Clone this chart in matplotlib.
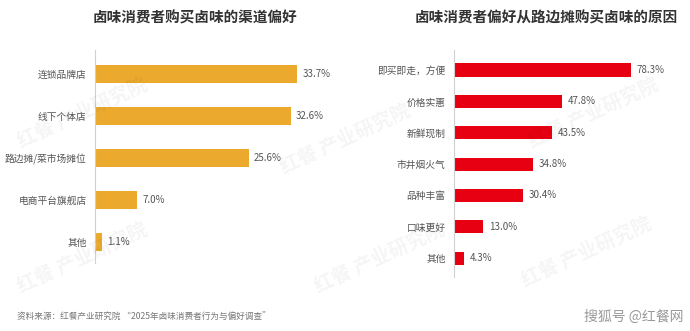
import matplotlib

matplotlib.use("Agg")
import matplotlib.pyplot as plt

plt.rcParams["font.family"] = ["Noto Sans CJK SC", "DejaVu Sans"]

# left chart: channels
channel_labels = ["连锁品牌店", "线下个体店", "路边摊/菜市场摊位", "电商平台旗舰店", "其他"]
channel_values = [33.7, 32.6, 25.6, 7.0, 1.1]

# right chart: reasons for buying at street stalls
reason_labels = ["即买即走，方便", "价格实惠", "新鲜现制", "市井烟火气", "品种丰富", "口味更好", "其他"]
reason_values = [78.3, 47.8, 43.5, 34.8, 30.4, 13.0, 4.3]

W, H = 690, 331
fig = plt.figure(figsize=(W / 100, H / 100), dpi=100)
fig.patch.set_facecolor("white")


def px_axes(x0, y_top, width, y_bottom):
    return fig.add_axes([x0 / W, 1 - y_bottom / H, width / W, (y_bottom - y_top) / H])


def draw(ax, labels, values, color, xmax, ylim, bar_h):
    pos = list(range(len(labels)))
    ax.barh(pos, values, height=bar_h, color=color, zorder=2)
    ax.set_xlim(0, xmax)
    ax.set_ylim(*ylim)
    ax.set_yticks(pos)
    ax.set_yticklabels(labels, fontsize=7, color="#555555")
    ax.tick_params(axis="y", length=0, pad=6)
    ax.set_xticks([])
    for side in ("top", "right", "bottom"):
        ax.spines[side].set_visible(False)
    ax.spines["left"].set_color("#d0d0d0")
    ax.spines["left"].set_linewidth(0.8)
    ax.set_facecolor("none")
    for p, v in zip(pos, values):
        ax.annotate(f"{v:.1f}%", (v, p), xytext=(4, 0), textcoords="offset points",
                    va="center", ha="left", fontsize=7, color="#555555")


# faint watermarks
for (wx, wy) in [(0.12, 0.66), (0.5, 0.58), (0.12, 0.22), (0.55, 0.22), (0.86, 0.66), (0.85, 0.24)]:
    fig.text(wx, wy, "红餐 产业研究院", fontsize=14, color="#000000", alpha=0.045,
             rotation=25, fontweight="bold", ha="center", va="center")

ax1 = px_axes(95, 50, 240, 263)
draw(ax1, channel_labels, channel_values, "#EBAA2E", 40, (4.5, -0.57), 0.41)

ax2 = px_axes(454, 50, 226, 277)
draw(ax2, reason_labels, reason_values, "#E60012", 100, (6.6, -0.64), 0.42)

fig.text(195 / W, 1 - 18 / H, "卤味消费者购买卤味的渠道偏好", ha="center", va="center",
         fontsize=10.5, fontweight="bold", color="#333333")
fig.text(546 / W, 1 - 18 / H, "卤味消费者偏好从路边摊购买卤味的原因", ha="center", va="center",
         fontsize=10.5, fontweight="bold", color="#333333")

fig.text(17 / W, 1 - 317 / H, "资料来源：红餐产业研究院 “2025年卤味消费者行为与偏好调查”",
         ha="left", va="center", fontsize=6.2, color="#777777")
fig.text(684 / W, 1 - 317 / H, "搜狐号 @红餐网", ha="right", va="center",
         fontsize=10, color="#999999", style="italic")

fig.savefig("out.png", dpi=100, facecolor="white")
